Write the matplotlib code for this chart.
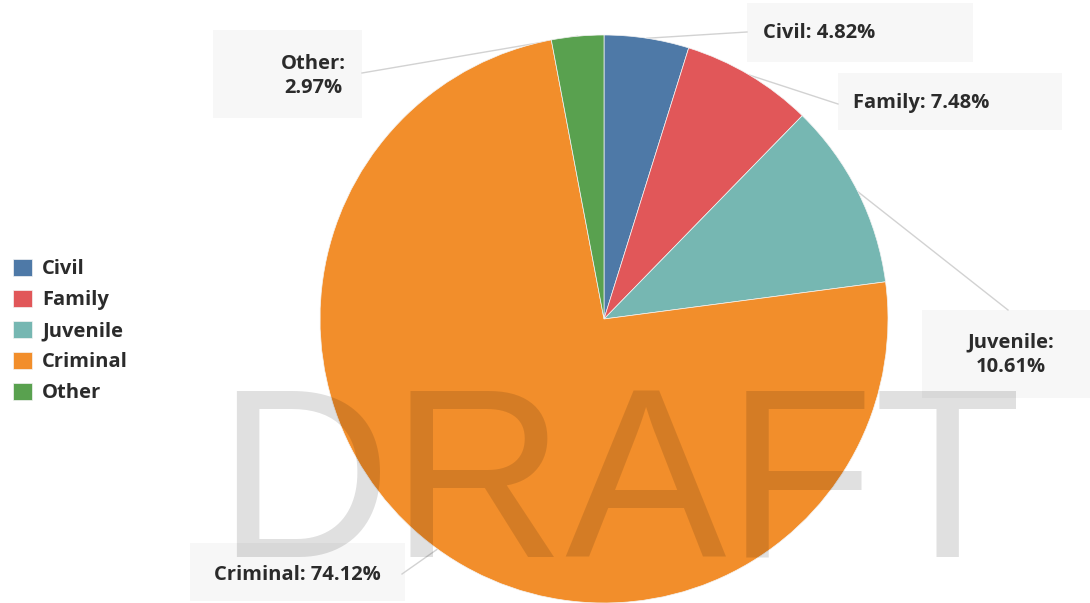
import numpy as np
import matplotlib
matplotlib.use("Agg")
import matplotlib.pyplot as plt
from matplotlib.patches import Rectangle

# datos del grafico
categorias = ["Civil", "Family", "Juvenile", "Criminal", "Other"]
porcentajes = [4.82, 7.48, 10.61, 74.12, 2.97]
colores = ["#4e79a7", "#e15759", "#76b7b2", "#f28e2b", "#59a14f"]

W, H = 1090, 603
plt.rcParams['font.family'] = ['Open Sans', 'DejaVu Sans']

fig = plt.figure(figsize=(W / 100, H / 100), dpi=100)
ax = fig.add_axes([0, 0, 1, 1])

# centro y radio del pastel en pixeles
cx, cy, r = 604, H - 319, 284
wedges, _ = ax.pie(porcentajes, colors=colores, startangle=90, counterclock=False,
                   center=(cx, cy), radius=r, frame=True,
                   wedgeprops=dict(edgecolor="#f4f4f4", linewidth=0.5))
for w in wedges:
    w.set_zorder(3)

ax.set_xlim(0, W)
ax.set_ylim(0, H)
ax.set_aspect('equal')
ax.axis('off')

# cajas de etiquetas: (x0, y0, x1, y1) en pixeles de la imagen, posicion del texto, alineacion
cajas = {
    "Civil": ((747, 3, 973, 62), (763, 33), 'left', (747, 32)),
    "Family": ((838, 73, 1062, 130), (853, 103), 'left', (838, 104)),
    "Juvenile": ((922, 310, 1090, 398), (1011, 355), 'center', (1008, 310)),
    "Criminal": ((190, 543, 405, 601), (214, 575), 'left', (402, 574)),
    "Other": ((213, 30, 362, 118), (313, 76), 'center', (362, 73)),
}
multilinea = {"Juvenile", "Other"}

for w, cat, p in zip(wedges, categorias, porcentajes):
    (x0, y0, x1, y1), (tx, ty), ha, (lx, ly) = cajas[cat]
    ax.add_patch(Rectangle((x0, H - y1), x1 - x0, y1 - y0, facecolor="#f7f7f7",
                           edgecolor="none", zorder=1))
    sep = ":\n" if cat in multilinea else ": "
    ax.text(tx, H - ty, f"{cat}{sep}{p:.2f}%", ha=ha, va='center', fontsize=14.5,
            fontweight='bold', color="#2b2b2b", linespacing=1.3, zorder=4)
    # linea guia hasta el centro angular de la porcion
    ang = np.deg2rad((w.theta1 + w.theta2) / 2)
    px, py = cx + r * np.cos(ang), cy + r * np.sin(ang)
    ax.plot([lx, px], [H - ly, py], color="#d2d2d2", lw=1, zorder=2)

# leyenda
leg = ax.legend(wedges, categorias, loc='center left', bbox_to_anchor=(13 / W, 1 - 331 / H),
                bbox_transform=fig.transFigure, frameon=False, handlelength=0.95,
                handleheight=0.95, handletextpad=0.5, labelspacing=0.52,
                borderpad=0, borderaxespad=0,
                prop=dict(family=['Open Sans', 'DejaVu Sans'], weight='bold', size=14.5))
for t in leg.get_texts():
    t.set_color("#2b2b2b")

# marca de agua
ax.text(216, H - 557, "DRAFT", fontsize=174, family=['Liberation Sans', 'DejaVu Sans'],
        color='black', alpha=0.12, ha='left', va='baseline', zorder=5)

fig.savefig("out.png", dpi=100)
